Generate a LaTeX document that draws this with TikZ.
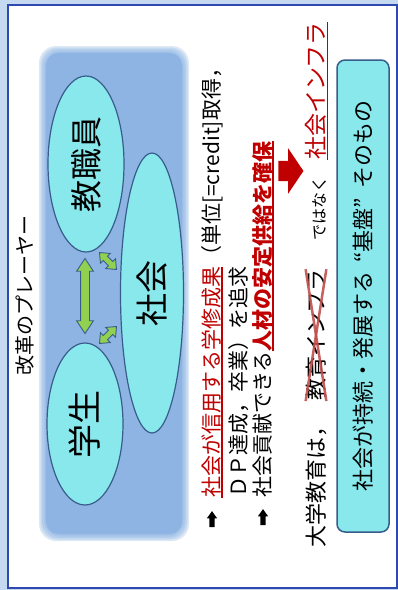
\documentclass[tikz,border=0pt]{standalone}
\usepackage{fontspec}
\setmainfont{Noto Sans CJK JP}
\usepackage{xcolor}
\usetikzlibrary{shapes.geometric, shapes.arrows}
\definecolor{framebl}{RGB}{46,73,176}
\definecolor{glowbl}{RGB}{197,217,241}
\definecolor{panelbl}{RGB}{142,180,227}
\definecolor{aqua}{RGB}{137,232,236}
\definecolor{edgebl}{RGB}{56,93,138}
\definecolor{leaf}{RGB}{146,208,80}
\definecolor{jpred}{RGB}{192,0,0}
\definecolor{crossred}{RGB}{192,80,77}
\newcommand\fs[1]{\fontsize{#1}{#1}\selectfont}
\newcommand\redline[1]{\setbox0\hbox{#1}\rlap{\rule[-3.6pt]{\wd0}{1.6pt}}\box0}

\begin{document}
\begin{tikzpicture}[x=1pt, y=-1pt, every node/.style={inner sep=0pt},
  vert/.style={rotate=90},
  player/.style={vert, ellipse, draw=edgebl, line width=1.2pt, fill=aqua},
  twoway/.style={double arrow, draw=edgebl, fill=leaf, line width=0.9pt, inner xsep=0pt},
  bullet/.style={vert, single arrow, fill=black, minimum height=16pt, inner xsep=0pt, inner ysep=2.5pt,
    single arrow head extend=2.5pt, single arrow tip angle=71},
  line/.style={vert, anchor=west, font=\fs{21}}]
  \useasboundingbox (0,0) rectangle (398,590);
  % frame
  \fill[glowbl] (0,0) rectangle (398,590);
  \draw[framebl, line width=2pt, fill=white] (8,4.5) rectangle (396.5,588);

  % players panel, soft edge
  \foreach \d in {0,1.5,...,6}
    \fill[panelbl, opacity=.3, rounded corners=17pt] (39+\d,46+\d) rectangle (189-\d,541-\d);
  \fill[panelbl, rounded corners=12pt] (46,53) rectangle (182,534);

  \node[vert, font=\fs{20}] (title) at (25,295) {改革のプレーヤー};

  \node[player, minimum width=176pt, minimum height=76pt, font=\fs{32}] (staff) at (86,164) {教職員};
  \node[player, minimum width=280pt, minimum height=63pt, font=\fs{33}] (society) at (152,293) {社会};
  \node[player, minimum width=162pt, minimum height=76pt, font=\fs{34}] (student) at (85,424) {学生};

  \node[twoway, rotate=90, minimum height=75pt, inner ysep=4pt, double arrow head extend=4pt,
    double arrow tip angle=67] (link) at (85,296) {};
  \node[twoway, rotate=-45, minimum height=24pt, inner ysep=2.5pt, double arrow head extend=4pt,
    double arrow tip angle=80] (linkup) at (108,261) {};
  \node[twoway, rotate=45, minimum height=24pt, inner ysep=2.5pt, double arrow head extend=4pt,
    double arrow tip angle=80] (linkdn) at (108,335) {};

  % outcomes
  \node[bullet] (b1) at (212,521) {};
  \node[bullet] (b2) at (263,519) {};
  \node[line] (l1) at (212,498) {{\color{jpred}\redline{社会が信用する学修成果}}（単位[=credit]取得，};
  \node[line] (l2) at (239,498) {ＤＰ達成，卒業）を追求};
  \node[line] (l3) at (263,498) {社会貢献できる{\color{jpred}\bfseries\redline{人材の安定供給を確保}}};

  \node[single arrow, fill=jpred, minimum height=25pt, inner xsep=0pt, inner ysep=10pt,
    single arrow head extend=12.5pt, single arrow tip angle=112] (push) at (287.5,171) {};

  % infrastructure
  \node[vert, anchor=west, font=\fs{22}] (daigaku) at (316,548) {大学教育は，};
  \node[vert, anchor=west, font=\fs{22}] (kyoiku) at (316,401) {教育インフラ};
  \draw[crossred, opacity=.9, line width=2.5pt] (kyoiku.south west) -- (kyoiku.north east);
  \draw[crossred, opacity=.9, line width=2.5pt] (kyoiku.north west) -- (kyoiku.south east);
  \node[vert, anchor=west, font=\fs{16}] (dewanaku) at (320,241) {ではなく};
  \node[vert, anchor=west, font=\fs{23}, text=jpred] (infra) at (317,160) {\redline{社会インフラ}};

  \node[vert, draw=edgebl, line width=1.5pt, fill=aqua, rounded corners=8pt, minimum width=472pt,
    minimum height=52pt, font=\fs{22}] (kiban) at (363,296)
    {社会が持続・発展する\hspace{.4em}“基盤”\hspace{.4em}そのもの};
\end{tikzpicture}
\end{document}
